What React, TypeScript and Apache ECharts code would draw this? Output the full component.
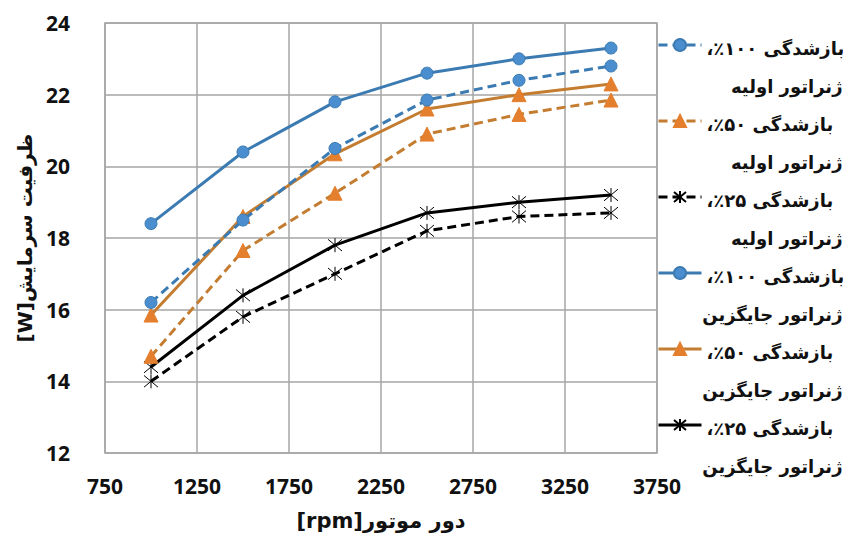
import React, { useEffect, useRef } from "react";
import * as echarts from "echarts";

const rpm = [1000, 1500, 2000, 2500, 3000, 3500];
const orig100 = [16.2, 18.5, 20.5, 21.85, 22.4, 22.8];
const orig50 = [14.7, 17.65, 19.25, 20.9, 21.45, 21.85];
const orig25 = [14.0, 15.8, 17.0, 18.2, 18.6, 18.7];
const repl100 = [18.4, 20.4, 21.8, 22.6, 23.0, 23.3];
const repl50 = [15.85, 18.6, 20.35, 21.6, 22.0, 22.3];
const repl25 = [14.4, 16.4, 17.8, 18.7, 19.0, 19.2];

const line1 = [
  "بازشدگی ۱۰۰٪،",
  "بازشدگی ۵۰٪،",
  "بازشدگی ۲۵٪،",
  "بازشدگی ۱۰۰٪،",
  "بازشدگی ۵۰٪،",
  "بازشدگی ۲۵٪،",
];
const line2 = [
  "ژنراتور اولیه",
  "ژنراتور اولیه",
  "ژنراتور اولیه",
  "ژنراتور جایگزین",
  "ژنراتور جایگزین",
  "ژنراتور جایگزین",
];
const seriesValues = [orig100, orig50, orig25, repl100, repl50, repl25];

const xAxisName = "[rpm]دور موتور";
const yAxisName = "[W]ظرفیت سرمایش";

const RLM = "\u200F";
const STAR = "path://M0 0L10 10M10 0L0 10M5 -1L5 11";

export default function App() {
  const ref = useRef<HTMLDivElement>(null);
  useEffect(() => {
    if (!ref.current) return;
    const chart = echarts.init(ref.current, undefined, { renderer: "svg" });
    const names = line1.map((l, i) => l + " " + line2[i]);
    const blueLine = "#3b7bb2";
    const blueFill = "#4b8ed0";
    const orangeLine = "#c47d30";
    const orangeFill = "#e47f2e";
    const styles = [
      { lc: blueLine, dash: [9, 5], sym: "circle", size: 12, fill: blueFill, border: blueLine, bw: 1 },
      { lc: orangeLine, dash: [9, 5], sym: "triangle", size: 14, fill: orangeFill, border: orangeFill, bw: 1 },
      { lc: "#000", dash: [9, 5], sym: STAR, size: 14, fill: "none", border: "#000", bw: 1 },
      { lc: blueLine, dash: "solid", sym: "circle", size: 12, fill: blueFill, border: blueLine, bw: 1 },
      { lc: orangeLine, dash: "solid", sym: "triangle", size: 14, fill: orangeFill, border: orangeFill, bw: 1 },
      { lc: "#000", dash: "solid", sym: STAR, size: 14, fill: "none", border: "#000", bw: 1 },
    ];
    const series = seriesValues.map((vals, i) => {
      const s = styles[i];
      return {
        name: names[i],
        type: "line",
        data: vals.map((v, j) => [rpm[j], v]),
        symbol: s.sym,
        symbolSize: s.size,
        showAllSymbol: true,
        z: 10 - i,
        lineStyle: { color: s.lc, width: 3, type: s.dash },
        itemStyle: { color: s.fill, borderColor: s.border, borderWidth: s.bw },
      };
    });
    const numFont = { fontFamily: "Open Sans", fontWeight: "bold", fontSize: 21, color: "#111" };
    const persFont = { fontFamily: "DejaVu Sans", fontWeight: "bold", color: "#111" };
    const option = {
      animation: false,
      grid: {
        left: 105,
        right: 186,
        top: 23,
        bottom: 83,
        show: true,
        borderColor: "#a6a6a6",
        borderWidth: 1.5,
      },
      xAxis: {
        type: "value",
        min: 750,
        max: 3750,
        interval: 500,
        axisLine: { show: false },
        axisTick: { show: false },
        splitLine: { lineStyle: { color: "#a6a6a6", width: 1.5 } },
        axisLabel: { ...numFont, margin: 22, formatter: (v: number) => String(v) },
        name: xAxisName,
        nameLocation: "middle",
        nameGap: 57,
        nameTextStyle: { ...persFont, fontSize: 21 },
      },
      yAxis: {
        type: "value",
        min: 12,
        max: 24,
        interval: 2,
        axisLine: { show: false },
        axisTick: { show: false },
        splitLine: { lineStyle: { color: "#a6a6a6", width: 1.5 } },
        axisLabel: { ...numFont, margin: 35, formatter: (v: number) => String(v) },
        name: yAxisName,
        nameLocation: "middle",
        nameRotate: 90,
        nameGap: 64,
        nameTextStyle: { ...persFont, fontSize: 20 },
      },
      legend: {
        orient: "vertical",
        left: 657,
        top: -15,
        padding: 0,
        itemGap: -44,
        itemWidth: 43,
        itemHeight: 15,
        align: "left",
        selectedMode: false,
        lineStyle: { width: 3 },
        data: names,
        formatter: (name: string) => {
          const i = names.indexOf(name);
          return "{a|" + RLM + line1[i] + RLM + "}\n{b|" + RLM + line2[i] + RLM + "}";
        },
        textStyle: {
          ...persFont,
          fontSize: 18,
          lineHeight: 38,
          width: 136,
          padding: [44, 0, 0, 0],
          rich: {
            a: { ...persFont, align: "left", fontSize: 18, lineHeight: 38 },
            b: { ...persFont, align: "right", fontSize: 18, lineHeight: 38 },
          },
        },
      },
      series,
    };
    chart.setOption(option as any);
    return () => chart.dispose();
  }, []);
  return (
    <div
      ref={ref}
      style={{ position: "fixed", left: 0, top: 0, width: 843, height: 536, background: "#fff" }}
    />
  );
}
